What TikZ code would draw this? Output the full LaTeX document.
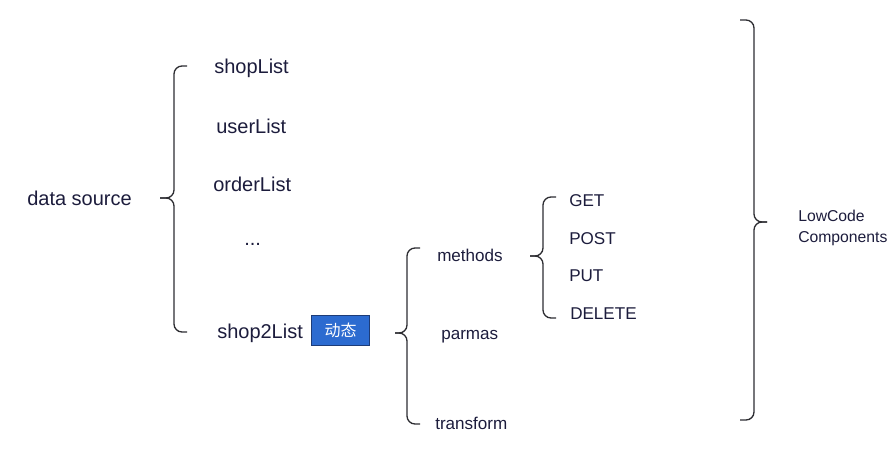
\documentclass[tikz,border=0pt]{standalone}
\usepackage{fontspec}
\setmainfont{Liberation Sans}
\newfontfamily\cjk{Noto Sans CJK SC}
\usepackage{xcolor}
\usepackage{tikz}
\definecolor{labelnavy}{RGB}{28,28,60}
\definecolor{bracegray}{RGB}{45,45,50}
\definecolor{tagblue}{RGB}{44,107,208}
\definecolor{tagborder}{RGB}{29,60,120}

\begin{document}
\begin{tikzpicture}[
  x=0.75pt, y=-0.75pt,
  every node/.style={text=labelnavy},
  biglabel/.style={anchor=west, inner sep=0pt, font=\fontsize{15}{17}\selectfont},
  smalllabel/.style={anchor=west, inner sep=0pt, font=\fontsize{12.8}{15.5}\selectfont},
  tag/.style={rectangle, draw=tagborder, fill=tagblue, line width=0.8pt,
    minimum width=44pt, minimum height=23pt, inner sep=0pt,
    text=white, font=\cjk\fontsize{12}{14}\selectfont},
  bracket/.style={draw=bracegray, line width=1pt, rounded corners=6pt}
]
  \useasboundingbox (0,0) rectangle (892,455);

  % data sources
  \node[biglabel] (src) at (27,198) {data source};
  \node[biglabel] (shop) at (214,68) {shopList};
  \node[biglabel] (user) at (216,126) {userList};
  \node[biglabel] (order) at (213,184) {orderList};
  \node[biglabel] (dots) at (244,244) {...};
  \node[biglabel] (shoptwo) at (217,333) {shop2List};
  \node[tag] (dyn) at (340.5,330.5) {动态};

  % request config
  \node[smalllabel] (meth) at (437,255) {methods};
  \node[smalllabel] (parm) at (441,337) {parmas};
  \node[smalllabel] (trans) at (435,423) {transform};

  % http methods
  \node[smalllabel] (get) at (569,201) {GET};
  \node[smalllabel] (post) at (569,239) {POST};
  \node[smalllabel] (put) at (569,276) {PUT};
  \node[smalllabel] (del) at (570,314) {DELETE};

  \node[smalllabel, align=left, font=\fontsize{11.8}{15.5}\selectfont]
    (lowcode) at (798,228) {LowCode\\Components};

  % braces: end x / bar x / tip x / top y / mid y / bottom y
  \foreach \xe/\xb/\xt/\yt/\ym/\yb in {187/174/160/66/198/332,
                      420/407/395/248/333/424,
                      556/543/530/197/256/318,
                      740/754/767/20/222/420} {
    \draw[bracket] (\xe,\yt) -- (\xb,\yt) -- (\xb,\ym) -- (\xt,\ym);
    \draw[bracket] (\xt,\ym) -- (\xb,\ym) -- (\xb,\yb) -- (\xe,\yb);
  }
\end{tikzpicture}
\end{document}
